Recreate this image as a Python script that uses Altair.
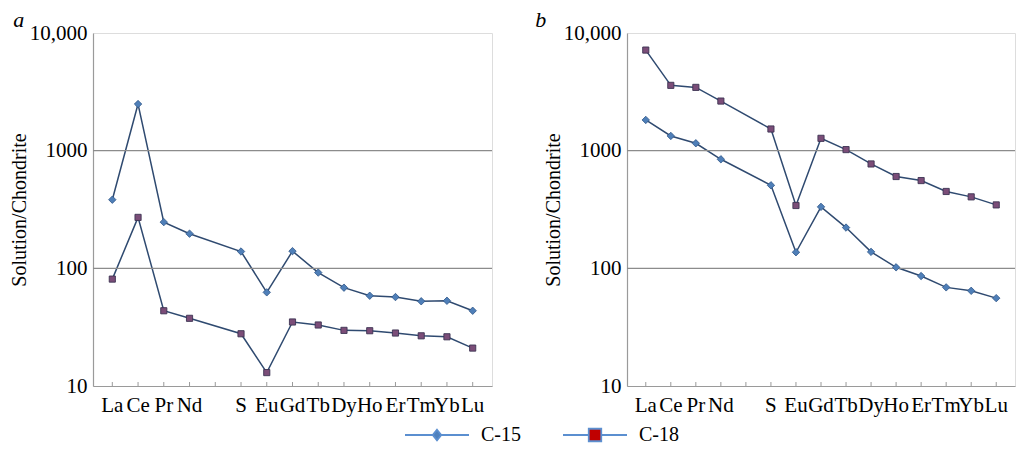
import altair as alt
import pandas as pd

elements = ["La", "Ce", "Pr", "Nd", "Pm", "Sm", "Eu", "Gd", "Tb", "Dy", "Ho", "Er", "Tm", "Yb", "Lu"]
series_names = ["C-15", "C-18"]

a_c15 = [383, 2490, 247, 197, None, 139, 62.5, 140, 92, 68.5, 58.5, 57, 52.5, 53, 43.6]
a_c18 = [81, 271, 43.6, 37.6, None, 27.8, 13.0, 35.0, 33.0, 29.7, 29.5, 28.2, 26.7, 26.2, 21.0]
b_c15 = [1824, 1334, 1156, 845, None, 508, 137, 333, 222, 138, 102, 86, 68.9, 64.4, 55.8]
b_c18 = [7160, 3590, 3450, 2640, None, 1528, 342, 1273, 1021, 771, 603, 557, 450, 405, 346]

grid_values = [100, 1000]
y_ticks = [10, 100, 1000, 10000]

FONT = "Liberation Serif, Times New Roman, Times, serif"
LINE_COLOR = "#2f4a70"
LEG_LINE = "#5b8fd0"

path_c15 = "M-6.4,0H-0.9M0.9,0H6.4M0,-1.05L0.85,0L0,1.05L-0.85,0Z"
path_c18 = "M-6.4,0H-1.25M1.25,0H6.4M-1.25,-1.25H1.25V1.25H-1.25Z"


def long_df(c15, c18):
    rows = []
    for name, vals in (("C-15", c15), ("C-18", c18)):
        for i, (el, v) in enumerate(zip(elements, vals)):
            if v is not None:
                rows.append({"element": el, "idx": i, "series": name, "value": v})
    return pd.DataFrame(rows)


label_expr = "datum.label == 'Pm' ? '' : (datum.label == 'Sm' ? 'S' : datum.label)"

x_axis = alt.Axis(title=None, labelAngle=0, labelExpr=label_expr, ticks=False,
                  labelFont=FONT, labelFontSize=21, labelColor="#000",
                  labelPadding=8, domainColor="#9a9a9a", domainWidth=1.2,
                  labelOverlap=False, grid=False)
y_axis = alt.Axis(title="Solution/Chondrite", values=y_ticks, grid=False, ticks=False,
                  labelExpr="datum.value == 10000 ? '10,000' : format(datum.value, 'd')",
                  labelFont=FONT, labelFontSize=21, labelColor="#000", labelPadding=6,
                  titleFont=FONT, titleFontSize=20, titleFontWeight="normal",
                  titleColor="#000", titlePadding=0,
                  domainColor="#9a9a9a", domainWidth=1.2)
x_scale = alt.Scale(domain=elements, padding=0.5)
y_scale = alt.Scale(type="log", domain=[10, 10000], nice=False)


def panel(c15, c18, letter, width, with_legend, title_dx):
    df = long_df(c15, c18)
    x = alt.X("element:O", scale=x_scale, axis=x_axis)
    y = alt.Y("value:Q", scale=y_scale, axis=y_axis)
    base = alt.Chart(df)
    line = base.mark_line(color=LINE_COLOR, strokeWidth=1.5).encode(
        x=x, y=y, detail="series:N", order=alt.Order("idx:Q"))
    grid = alt.Chart(pd.DataFrame({"value": grid_values})).mark_rule(
        color="#8c8c8c", strokeWidth=1.3).encode(y=y)
    ticks = alt.Chart(pd.DataFrame({"element": elements})).mark_rule(
        color="#9a9a9a", strokeWidth=1).encode(
        x=x, y=alt.value(349), y2=alt.value(353))
    p15 = base.transform_filter("datum.series == 'C-15'").mark_point(
        shape="diamond", filled=True, fill="#4f7fb8", stroke="#2f5588", strokeWidth=0.8,
        size=55, opacity=1).encode(x=x, y=y)
    p18 = base.transform_filter("datum.series == 'C-18'").mark_point(
        shape="square", filled=True, fill="#7b4d78", stroke="#3c3352", strokeWidth=0.9,
        size=38, opacity=1).encode(x=x, y=y)
    layers = [line, grid, ticks, p15, p18]
    if with_legend:
        leg = alt.Legend(title=None, orient="none", legendX=334, legendY=392, direction="horizontal",
                         labelFont=FONT, labelFontSize=20, labelColor="#000",
                         symbolSize=100, symbolStrokeWidth=1.8, labelOffset=34,
                         columnPadding=38, padding=0, symbolOpacity=1)
        lg = base.transform_filter("false").mark_point(filled=True, opacity=1).encode(
            x=x, y=y,
            shape=alt.Shape("series:N", scale=alt.Scale(domain=series_names, range=[path_c15, path_c18]), legend=leg),
            fill=alt.Fill("series:N", scale=alt.Scale(domain=series_names, range=["#4f81bd", "#c00000"]), legend=leg),
            stroke=alt.Stroke("series:N", scale=alt.Scale(domain=series_names, range=[LEG_LINE, LEG_LINE]), legend=leg),
        )
        layers.append(lg)
    return alt.layer(*layers).properties(
        width=width, height=353,
        title=alt.TitleParams(text=letter, anchor="start", frame="bounds", font=FONT,
                              fontStyle="italic", fontWeight="normal", fontSize=22,
                              color="#000", dx=title_dx, offset=-10),
    )


chart = alt.hconcat(
    panel(a_c15, a_c18, "a", 399, True, 4),
    panel(b_c15, b_c18, "b", 388, False, -8),
    spacing=40,
).configure_view(
    stroke="#3a3a3a", strokeWidth=1.6
).configure(font=FONT).configure_axis(labelFont=FONT, titleFont=FONT).configure_legend(
    labelFont=FONT
).properties(padding={"left": 0, "top": 0, "right": 0, "bottom": 0})

chart.save("out.html", embed_options={"renderer": "svg", "actions": False})
